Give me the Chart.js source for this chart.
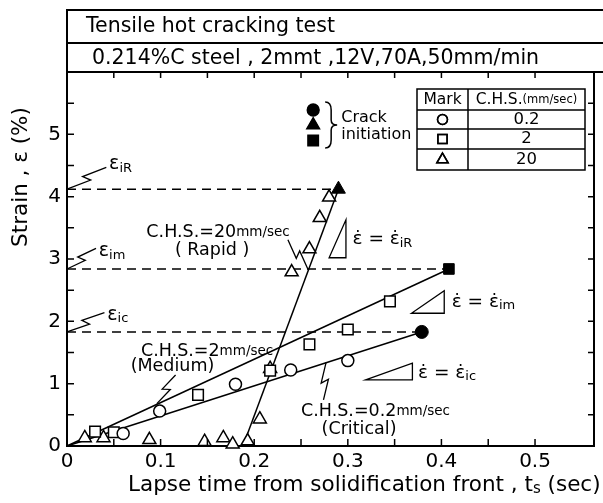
<!DOCTYPE html>
<html>
<head>
<meta charset="utf-8">
<script src="https://cdn.jsdelivr.net/npm/chart.js@4.4.0/dist/chart.umd.min.js"></script>
<style>
  html, body { margin: 0; padding: 0; background: #fff; }
  #wrap { width: 603px; height: 503px; }
</style>
</head>
<body>
<div id="wrap"><canvas id="chart"></canvas></div>
<script>
// C.H.S. = 0.2 mm/sec (open circles)
const circleX = [0.060, 0.099, 0.180, 0.239, 0.300];
const circleY = [0.20, 0.56, 0.99, 1.22, 1.37];
// C.H.S. = 2 mm/sec (open squares)
const squareX = [0.030, 0.050, 0.140, 0.217, 0.259, 0.300, 0.345];
const squareY = [0.23, 0.22, 0.82, 1.21, 1.63, 1.87, 2.32];
// C.H.S. = 20 mm/sec (open triangles)
const triangleX = [0.019, 0.039, 0.088, 0.147, 0.167, 0.177, 0.193, 0.206, 0.217, 0.240, 0.259, 0.270, 0.280];
const triangleY = [0.13, 0.13, 0.10, 0.07, 0.13, 0.03, 0.08, 0.43, 1.24, 2.79, 3.16, 3.66, 3.99];
// crack initiation (filled marks): critical, medium, rapid
const crackX = [0.379, 0.408, 0.290];
const crackY = [1.83, 2.84, 4.12];
// fitted lines
const criticalLineX = [0, 0.379], criticalLineY = [0, 1.83];
const mediumLineX = [0, 0.408], mediumLineY = [0, 2.84];
const rapidLineX = [0.188, 0.290], rapidLineY = [0, 4.12];
// table rows
const tableSpeeds = ['0.2', '2', '20'];
const tableMarks = ['circle', 'rect', 'triangle'];

const FAM = '"DejaVu Sans", sans-serif';
const fnt = s => s + 'px ' + FAM;
const pts = (xs, ys) => xs.map((x, i) => ({ x: x, y: ys[i] }));

function runs(ctx, x, y, parts, align) {
  let w = 0;
  parts.forEach(p => { ctx.font = fnt(p[1]); w += ctx.measureText(p[0]).width; });
  let cx = align === 'center' ? x - w / 2 : align === 'right' ? x - w : x;
  ctx.textAlign = 'left';
  ctx.textBaseline = 'middle';
  parts.forEach(p => {
    ctx.font = fnt(p[1]);
    ctx.fillText(p[0], cx, y + (p[2] || 0));
    cx += ctx.measureText(p[0]).width;
  });
}

function bolt(ctx, a, b) {
  const dx = b.x - a.x, dy = b.y - a.y, L = Math.hypot(dx, dy);
  const px = -dy / L * 3.5, py = dx / L * 3.5;
  ctx.beginPath();
  ctx.moveTo(a.x, a.y);
  ctx.lineTo(a.x + dx * 0.56 + px, a.y + dy * 0.56 + py);
  ctx.lineTo(a.x + dx * 0.44 - px, a.y + dy * 0.44 - py);
  ctx.lineTo(b.x, b.y);
  ctx.stroke();
}

function slope(ctx, a, b, c) {
  ctx.beginPath();
  ctx.moveTo(a.x, a.y); ctx.lineTo(b.x, b.y); ctx.lineTo(c.x, c.y); ctx.closePath();
  ctx.stroke();
}

const decor = {
  id: 'decor',
  afterDraw(chart) {
    const ctx = chart.ctx, ca = chart.chartArea, xs = chart.scales.x, ys = chart.scales.y;
    const P = (x, y) => ({ x: xs.getPixelForValue(x), y: ys.getPixelForValue(y) });
    ctx.save();
    ctx.strokeStyle = '#000';
    ctx.fillStyle = '#000';
    ctx.lineWidth = 2;

    // header box
    ctx.beginPath();
    ctx.moveTo(ca.left, ca.top); ctx.lineTo(ca.left, 10); ctx.lineTo(603, 10);
    ctx.moveTo(ca.left, 43); ctx.lineTo(603, 43);
    ctx.moveTo(ca.left, ca.top); ctx.lineTo(603, ca.top);
    ctx.moveTo(ca.right, ca.top); ctx.lineTo(ca.right, ca.bottom);
    ctx.stroke();
    runs(ctx, 86, 27, [['Tensile hot cracking test', 20.5]]);
    runs(ctx, 92, 59, [['0.214%C steel , 2mmt ,12V,70A,50mm/min', 20.5]]);

    // inward ticks on all four sides
    ctx.lineWidth = 1.5;
    ctx.beginPath();
    xs.ticks.forEach(t => {
      if (Math.abs(t.value / 0.05 - Math.round(t.value / 0.05)) > 1e-6) return;
      const px = xs.getPixelForValue(t.value);
      ctx.moveTo(px, ca.bottom); ctx.lineTo(px, ca.bottom - 7);
      ctx.moveTo(px, ca.top); ctx.lineTo(px, ca.top + 6);
    });
    ys.ticks.forEach(t => {
      const py = ys.getPixelForValue(t.value);
      ctx.moveTo(ca.left, py); ctx.lineTo(ca.left + 7, py);
      ctx.moveTo(ca.right, py); ctx.lineTo(ca.right - 6, py);
    });
    ctx.stroke();

    // axis titles
    runs(ctx, 128, 485, [['Lapse time from solidification front , t', 21.5], ['s', 15, 4], [' (sec)', 21.5]]);
    ctx.save();
    ctx.translate(21, 177);
    ctx.rotate(-Math.PI / 2);
    runs(ctx, 0, 0, [['Strain , ε (%)', 21.5]], 'center');
    ctx.restore();

    // critical strain labels with leaders
    ctx.lineWidth = 1.3;
    bolt(ctx, P(0, 4.12), P(0.042, 4.47));
    runs(ctx, P(0.045, 0).x, P(0, 4.52).y, [['ε', 19], ['iR', 13, 4]]);
    bolt(ctx, P(0, 2.84), P(0.031, 3.17));
    runs(ctx, P(0.034, 0).x, P(0, 3.12).y, [['ε', 19], ['im', 13, 4]]);
    bolt(ctx, P(0, 1.83), P(0.040, 2.14));
    runs(ctx, P(0.043, 0).x, P(0, 2.10).y, [['ε', 19], ['ic', 13, 4]]);

    // crack initiation legend
    const lm = [['circle', 5.39], ['triangle', 5.15], ['rect', 4.90]];
    lm.forEach(m => {
      const p = P(0.263, m[1]);
      Chart.helpers.drawPoint(ctx, { pointStyle: m[0], radius: m[0] === 'circle' ? 6 : 7.5, borderWidth: 1 }, p.x, p.y);
      ctx.fill();
    });
    const bt = P(0.279, 5.52), bb = P(0.279, 4.78), bm = (bt.y + bb.y) / 2;
    ctx.lineWidth = 1.5;
    ctx.beginPath();
    ctx.moveTo(bt.x - 3, bt.y);
    ctx.quadraticCurveTo(bt.x + 3, bt.y, bt.x + 3, bt.y + 8);
    ctx.lineTo(bt.x + 3, bm - 5);
    ctx.quadraticCurveTo(bt.x + 3, bm, bt.x + 9, bm);
    ctx.quadraticCurveTo(bt.x + 3, bm, bt.x + 3, bm + 5);
    ctx.lineTo(bt.x + 3, bb.y - 8);
    ctx.quadraticCurveTo(bt.x + 3, bb.y, bt.x - 3, bb.y);
    ctx.stroke();
    runs(ctx, P(0.293, 0).x, P(0, 5.26).y, [['Crack', 16]]);
    runs(ctx, P(0.293, 0).x, P(0, 4.99).y, [['initiation', 16]]);

    // speed annotations
    ctx.lineWidth = 1.3;
    runs(ctx, P(0.238, 0).x, P(0, 3.43).y, [['C.H.S.=20', 17.5], ['mm/sec', 13.5]], 'right');
    runs(ctx, P(0.155, 0).x, P(0, 3.14).y, [['( Rapid )', 17.5]], 'center');
    bolt(ctx, P(0.236, 3.31), P(0.2575, 2.83));

    runs(ctx, P(0.079, 0).x, P(0, 1.51).y, [['C.H.S.=2', 17.5], ['mm/sec', 13.5]]);
    runs(ctx, P(0.068, 0).x, P(0, 1.28).y, [['(Medium)', 17.5]]);
    bolt(ctx, P(0.116, 1.14), P(0.096, 0.68));

    runs(ctx, P(0.250, 0).x, P(0, 0.55).y, [['C.H.S.=0.2', 17.5], ['mm/sec', 13.5]]);
    runs(ctx, P(0.272, 0).x, P(0, 0.27).y, [['(Critical)', 17.5]]);
    bolt(ctx, P(0.2768, 1.34), P(0.274, 0.74));

    // strain-rate triangles
    slope(ctx, P(0.280, 3.02), P(0.298, 3.02), P(0.298, 3.63));
    runs(ctx, P(0.305, 0).x, P(0, 3.31).y, [['ε\u0307 = ε\u0307', 18.5], ['iR', 13, 4]]);
    slope(ctx, P(0.368, 2.13), P(0.403, 2.13), P(0.403, 2.49));
    runs(ctx, P(0.411, 0).x, P(0, 2.31).y, [['ε\u0307 = ε\u0307', 18.5], ['im', 13, 4]]);
    slope(ctx, P(0.319, 1.06), P(0.369, 1.06), P(0.369, 1.33));
    runs(ctx, P(0.375, 0).x, P(0, 1.17).y, [['ε\u0307 = ε\u0307', 18.5], ['ic', 13, 4]]);

    // mark table
    const tl = 417, tr = 585, tc = 468, rows = [89, 110, 129, 149, 170];
    ctx.lineWidth = 1.5;
    ctx.beginPath();
    ctx.rect(tl, rows[0], tr - tl, rows[4] - rows[0]);
    rows.slice(1, 4).forEach(r => { ctx.moveTo(tl, r); ctx.lineTo(tr, r); });
    ctx.moveTo(tc, rows[0]); ctx.lineTo(tc, rows[4]);
    ctx.stroke();
    runs(ctx, (tl + tc) / 2, 100, [['Mark', 15.5]], 'center');
    runs(ctx, (tc + tr) / 2, 100, [['C.H.S.', 15.5], ['(mm/sec)', 11.5]], 'center');
    tableSpeeds.forEach((s, i) => {
      const cy = (rows[i + 1] + rows[i + 2]) / 2;
      ctx.fillStyle = '#fff';
      Chart.helpers.drawPoint(ctx, { pointStyle: tableMarks[i], radius: tableMarks[i] === 'circle' ? 5 : 6.5, borderWidth: 1.5 }, (tl + tc) / 2, cy);
      ctx.stroke();
      ctx.fillStyle = '#000';
      runs(ctx, (tc + tr) / 2, cy, [[s, 16.5]], 'center');
    });
    ctx.restore();
  }
};

const openMark = (data, style, r) => ({
  data: data, pointStyle: style, pointRadius: r, pointBackgroundColor: '#fff',
  pointBorderColor: '#000', pointBorderWidth: 1.5, showLine: false, order: 1, clip: false
});
const line = (data, dash) => ({
  data: data, showLine: true, borderColor: '#000', borderWidth: 1.5, borderDash: dash || [],
  pointRadius: 0, order: 5, clip: false
});

new Chart(document.getElementById('chart'), {
  type: 'scatter',
  data: {
    datasets: [
      openMark(pts(circleX, circleY), 'circle', 6),
      openMark(pts(squareX, squareY), 'rect', 7.5),
      openMark(pts(triangleX, triangleY), 'triangle', 7.5),
      {
        data: pts(crackX, crackY), pointStyle: ['circle', 'rect', 'triangle'], pointRadius: [6.5, 7.5, 8],
        pointBackgroundColor: '#000', pointBorderColor: '#000', pointBorderWidth: 1, order: 0, clip: false
      },
      line(pts(criticalLineX, criticalLineY)),
      line(pts(mediumLineX, mediumLineY)),
      line(pts(rapidLineX, rapidLineY)),
      line(pts([0, crackX[0]], [crackY[0], crackY[0]]), [9, 6]),
      line(pts([0, crackX[1]], [crackY[1], crackY[1]]), [9, 6]),
      line(pts([0, crackX[2]], [crackY[2], crackY[2]]), [9, 6])
    ]
  },
  options: {
    responsive: true,
    maintainAspectRatio: false,
    animation: false,
    layout: { padding: { top: 72, right: 1, left: 0, bottom: 0 } },
    plugins: { legend: { display: false }, tooltip: { enabled: false } },
    scales: {
      x: {
        type: 'linear', min: 0, max: 0.563,
        afterFit: s => { s.height = 57; },
        grid: { display: true, drawOnChartArea: false, drawTicks: false },
        border: { display: true, color: '#000', width: 2 },
        ticks: {
          stepSize: 0.05, autoSkip: false, maxRotation: 0, padding: 4, color: '#000',
          font: { family: FAM, size: 20 },
          callback: v => {
            const n = Math.round(v * 100);
            if (Math.abs(v * 100 - n) > 1e-6 || n % 10 !== 0) return '';
            return n === 0 ? '0' : (n / 100).toFixed(1);
          }
        }
      },
      y: {
        type: 'linear', min: 0, max: 6,
        afterFit: s => { s.width = 67; },
        grid: { display: true, drawOnChartArea: false, drawTicks: false },
        border: { display: true, color: '#000', width: 2 },
        ticks: {
          stepSize: 0.5, autoSkip: false, padding: 6, color: '#000',
          font: { family: FAM, size: 20 },
          callback: v => (Number.isInteger(v) && v <= 5 ? String(v) : '')
        }
      }
    }
  },
  plugins: [decor]
});
</script>
</body>
</html>
